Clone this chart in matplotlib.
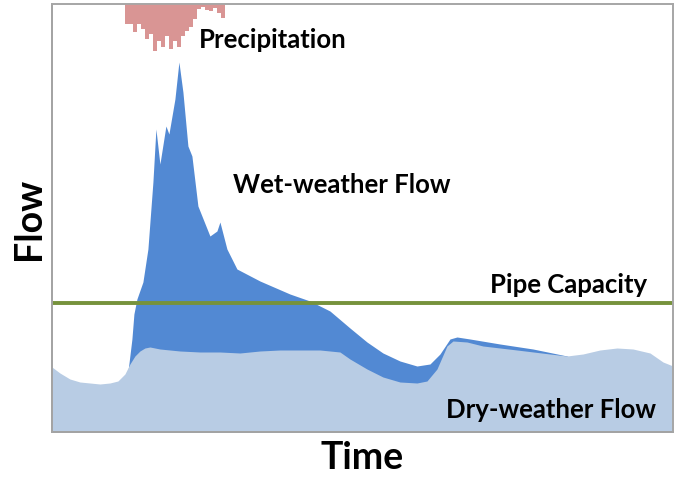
import numpy as np
import matplotlib.pyplot as plt

# hydrograph, arbitrary units (time along x, flow up)
dry_t = [0, 8, 18, 28, 38, 48, 58, 66, 73, 78, 83, 88, 93, 98, 108, 128, 148, 168, 188,
         208, 228, 248, 268, 288, 298, 315, 331, 348, 365, 375, 385, 395, 401, 415, 431,
         465, 498, 515, 531, 548, 565, 581, 598, 611, 621]
dry_flow = [65, 59, 53, 50, 49, 48, 49, 51, 58, 68, 76, 81, 84, 85, 83, 81, 80, 80, 79,
            81, 82, 82, 82, 80, 73, 63, 55, 50, 49, 51, 63, 86, 91, 90, 86, 82, 78, 76,
            78, 82, 84, 83, 79, 70, 66]

wet_t = [76, 80, 82, 85, 91, 96, 101, 104, 108, 114, 117, 123, 127, 131, 136, 140, 146,
         158, 165, 168, 175, 185, 208, 238, 258, 278, 298, 315, 331, 348, 365, 378, 388,
         398, 405, 418, 448, 481, 515, 530]
wet_flow = [60, 93, 118, 133, 150, 183, 250, 303, 268, 306, 298, 333, 370, 340, 286, 276,
            226, 196, 201, 210, 183, 163, 151, 138, 131, 121, 104, 90, 79, 71, 66, 68, 78,
            93, 95, 93, 88, 83, 76, 70]

# rainfall hyetograph, hung from the top of the plot
rain_t = np.arange(73, 171, 4)
rain_depth = [20, 20, 28, 20, 25, 35, 30, 47, 37, 43, 32, 45, 37, 43, 32, 27, 23, 15,
              5, 3, 6, 7, 4, 9, 14]

pipe_capacity = 129

fig = plt.figure(figsize=(6.74, 4.81), dpi=100)
ax = fig.add_axes([0.077, 0.0998, 0.9215, 0.8898])

ax.fill_between(wet_t, 0, wet_flow, color='#5289d3', lw=0)
ax.fill_between(dry_t, 0, dry_flow, color='#b8cce4', lw=0)
ax.axhline(pipe_capacity, color='#76923c', lw=2.8)

ax.set_xlim(0, 621)
ax.set_ylim(0, 428)

ax2 = ax.twinx()
ax2.bar(rain_t[:len(rain_depth)], rain_depth, width=4, align='edge', color='#d99594', lw=0)
ax2.set_ylim(428, 0)

for a in (ax, ax2):
    a.set_xticks([])
    a.set_yticks([])
    for s in a.spines.values():
        s.set_color('#a6a6a6')
        s.set_linewidth(1.2)
ax.spines['left'].set_color('#8c8c8c')
ax.spines['bottom'].set_color('#8c8c8c')

font = dict(family='Lato', fontweight='bold', color='black')
ax.text(221, 393, 'Precipitation', ha='center', va='center', fontsize=18.5, **font)
ax.text(290, 248, 'Wet-weather Flow', ha='center', va='center', fontsize=18.5, **font)
ax.text(517, 148, 'Pipe Capacity', ha='center', va='center', fontsize=18.5, **font)
ax.text(499, 23, 'Dry-weather Flow', ha='center', va='center', fontsize=18.5, **font)

ax.set_xlabel('Time', fontsize=27, labelpad=6, **font)
ax.set_ylabel('Flow', fontsize=27, labelpad=4, **font)

fig.savefig('out.png', dpi=100)
